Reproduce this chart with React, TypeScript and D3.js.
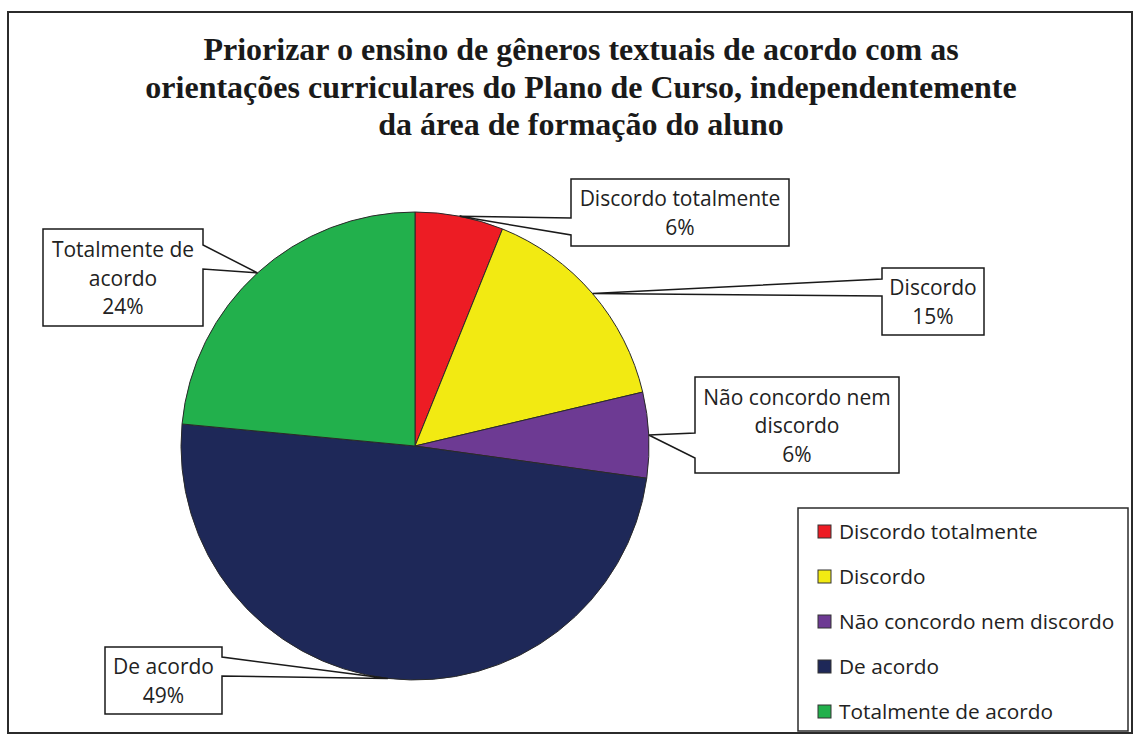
import React from 'react';
import * as d3 from 'd3';

// slice values, in drawing order from 12 o'clock
const categories = [
  'Discordo totalmente',
  'Discordo',
  'Não concordo nem discordo',
  'De acordo',
  'Totalmente de acordo',
];
const values = [6.1, 15.2, 5.9, 49.3, 23.5];
const colors = ['#ED1C24', '#F2EA12', '#6D3A93', '#1E2858', '#22B04C'];
// how the callouts break the category names
const calloutLines = [
  ['Discordo totalmente'],
  ['Discordo'],
  ['Não concordo nem', 'discordo'],
  ['De acordo'],
  ['Totalmente de', 'acordo'],
];
const titleLines = [
  'Priorizar o ensino de gêneros textuais de acordo com as',
  'orientações curriculares do Plano de Curso, independentemente',
  'da área de formação do aluno',
];

// callout boxes: position, size, which side the pointer leaves from, and pointer base (y offsets in box)
const calloutBoxes = [
  { x: 571, y: 179, w: 218, h: 67, side: 'left', b0: 39, b1: 56 },
  { x: 882, y: 268, w: 102, h: 67, side: 'left', b0: 11, b1: 28 },
  { x: 695, y: 377, w: 204, h: 96, side: 'left', b0: 56, b1: 81 },
  { x: 105, y: 647, w: 117, h: 67, side: 'right', b0: 10, b1: 29 },
  { x: 43, y: 229, w: 160, h: 97, side: 'right', b0: 16, b1: 40 },
];

const W = 1140;
const H = 737;
const cx = 415;
const cy = 446;
const R = 234;
const labelFont = '"Open Sans", Lato, sans-serif';

const App = () => {
  const pie = d3.pie<number>().sort(null).value((d) => d);
  const arcs = pie(values);
  const arc = d3.arc<d3.PieArcDatum<number>>().innerRadius(0).outerRadius(R);
  const rim = d3.arc<d3.PieArcDatum<number>>().innerRadius(R).outerRadius(R);
  const total = d3.sum(values);

  //box + pointer in one outline, like the excel callouts
  const calloutPath = (b, tip) => {
    const { x, y, w, h } = b;
    if (b.side === 'left') {
      return `M${x},${y}H${x + w}V${y + h}H${x}V${y + b.b1}L${tip[0]},${tip[1]}L${x},${y + b.b0}Z`;
    }
    return `M${x},${y}H${x + w}V${y + b.b0}L${tip[0]},${tip[1]}L${x + w},${y + b.b1}V${y + h}H${x}Z`;
  };

  const legendY = d3.scalePoint<string>().domain(categories).range([531.5, 711.5]);

  return (
    <svg width={W} height={H} style={{ position: 'absolute', left: 0, top: 0, background: '#fff' }}>
      <rect x={8} y={12} width={1124} height={721} fill="#fff" stroke="#2b2b2b" strokeWidth={2} />

      {titleLines.map((t, i) => (
        <text
          key={i}
          x={581}
          y={60 + i * 37.5}
          textAnchor="middle"
          fontFamily='"Liberation Serif", "Times New Roman", serif'
          fontWeight="bold"
          fontSize={32}
          fill="#1a1a1a"
        >
          {t}
        </text>
      ))}

      <g transform={`translate(${cx},${cy})`}>
        {arcs.map((a, i) => (
          <path key={i} d={arc(a)} fill={colors[i]} stroke="#2a2a2a" strokeWidth={1} />
        ))}
      </g>

      {arcs.map((a, i) => {
        const c = rim.centroid(a);
        const tip: [number, number] = [cx + c[0], cy + c[1]];
        const b = calloutBoxes[i];
        const lines = [...calloutLines[i], `${Math.round((values[i] / total) * 100)}%`];
        const mid = b.y + b.h / 2;
        return (
          <g key={i}>
            <path d={calloutPath(b, tip)} fill="#fff" stroke="#1a1a1a" strokeWidth={1.5} />
            {lines.map((l, j) => (
              <text
                key={j}
                x={b.x + b.w / 2}
                y={mid + (j - (lines.length - 1) / 2) * 28.5 + 8}
                textAnchor="middle"
                fontFamily={labelFont}
                fontSize={21}
                fill="#222"
              >
                {l}
              </text>
            ))}
          </g>
        );
      })}

      <rect x={798} y={508} width={330} height={223} fill="#fff" stroke="#2b2b2b" strokeWidth={1.5} />
      {categories.map((c, i) => (
        <g key={c} transform={`translate(818,${legendY(c)})`}>
          <rect x={0} y={-6.5} width={13} height={13} fill={colors[i]} stroke="#333" strokeWidth={1} />
          <text x={21} y={7} fontFamily={labelFont} fontSize={20.8} fill="#222">
            {c}
          </text>
        </g>
      ))}
    </svg>
  );
};

export default App;
